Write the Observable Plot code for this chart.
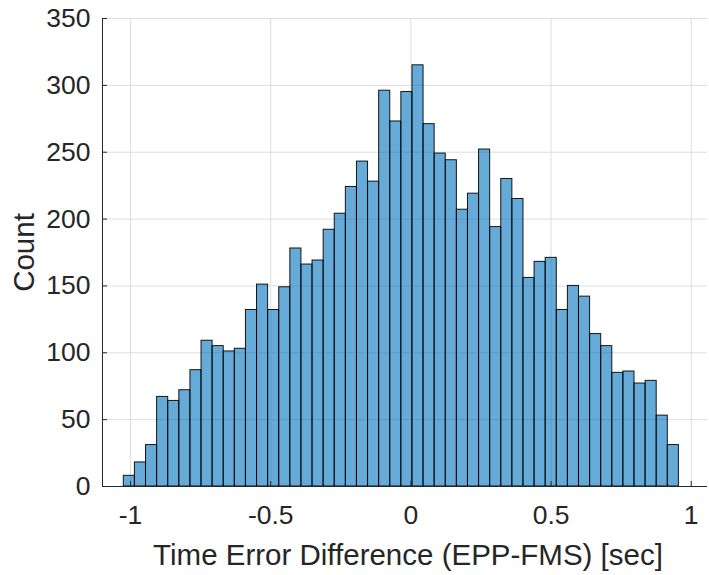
<!DOCTYPE html>
<html>
<head>
<meta charset="utf-8">
<script src="https://cdn.jsdelivr.net/npm/d3@7"></script>
<script src="https://cdn.jsdelivr.net/npm/@observablehq/plot@0.6"></script>
<style>
  html, body { margin: 0; padding: 0; background: #fff; }
</style>
</head>
<body>
<div id="chart"></div>
<script>
// Histogram bins (50 equal-width bins)
const binStart = -1.024;
const binWidth = 0.0396;
const counts = [8, 18, 31, 67, 64, 72, 87, 109, 105, 101,
                103, 132, 151, 132, 149, 178, 166, 169, 192, 204,
                224, 243, 228, 296, 273, 295, 315, 271, 249, 244,
                207, 219, 252, 194, 230, 215, 156, 168, 171, 132,
                150, 142, 114, 105, 85, 86, 77, 79, 53, 31];
const xDomain = [-1.1, 1.058];
const yDomain = [0, 350];
const xTicks = [-1, -0.5, 0, 0.5, 1];
const xTickLabels = ["-1", "-0.5", "0", "0.5", "1"];
const yTicks = [0, 50, 100, 150, 200, 250, 300, 350];
const xLabel = "Time Error Difference (EPP-FMS) [sec]";
const yLabel = "Count";

const bins = counts.map((c, i) => ({
  x1: binStart + i * binWidth,
  x2: binStart + (i + 1) * binWidth,
  count: c
}));

const W = 709, H = 575;
const mL = 102, mR = 2, mT = 18, mB = 89;
const plotW = W - mL - mR, plotH = H - mT - mB;
const axisColor = "#262626";

const chart = Plot.plot({
  width: W,
  height: H,
  marginLeft: mL,
  marginRight: mR,
  marginTop: mT,
  marginBottom: mB,
  style: { fontFamily: "'Liberation Sans', Arial, Helvetica, sans-serif", fontSize: "26px", color: axisColor, background: "#fff" },
  x: { domain: xDomain },
  y: { domain: yDomain },
  marks: [
    Plot.gridX(xTicks, { stroke: "#dedede", strokeOpacity: 1, strokeWidth: 1 }),
    Plot.gridY(yTicks, { stroke: "#dedede", strokeOpacity: 1, strokeWidth: 1 }),
    Plot.rectY(bins, { x1: "x1", x2: "x2", y: "count", fill: "#0072BD", fillOpacity: 0.6, stroke: "#000", strokeWidth: 1, strokeOpacity: 0.9 }),
    Plot.axisX(xTicks, { tickSize: 0, tickPadding: 19, tickFormat: (d, i) => xTickLabels[i], fontSize: 26.5, label: null, fill: axisColor }),
    Plot.axisY(yTicks, { tickSize: 0, tickPadding: 12, fontSize: 26.5, label: null, fill: axisColor }),
    Plot.tickX(xTicks, { x: d => d, insetTop: plotH - 5, stroke: axisColor, strokeWidth: 1 }),
    Plot.tickY(yTicks, { y: d => d, insetRight: plotW - 5, stroke: axisColor, strokeWidth: 1 }),
    Plot.ruleY([yDomain[0]], { stroke: axisColor, strokeWidth: 1 }),
    Plot.ruleX([xDomain[0]], { stroke: axisColor, strokeWidth: 1 }),
    Plot.text([xLabel], { text: d => d, frameAnchor: "bottom", textAnchor: "middle", lineAnchor: "bottom", dx: 3, dy: 78, fontSize: 29.5, fill: axisColor }),
    Plot.text([yLabel], { text: d => d, frameAnchor: "left", textAnchor: "middle", lineAnchor: "bottom", rotate: -90, dx: -68.5, fontSize: 29.5, fill: axisColor })
  ]
});
document.getElementById("chart").appendChild(chart);
</script>
</body>
</html>
